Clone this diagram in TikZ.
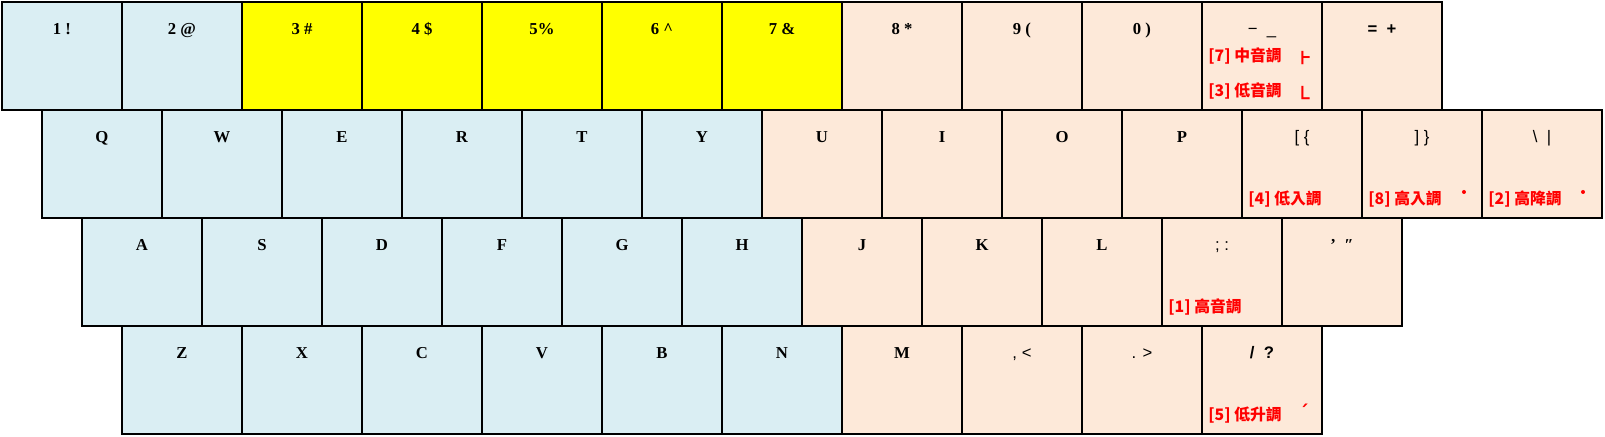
\documentclass[tikz,border=0pt]{standalone}
\usepackage{fontspec}
\setmainfont{Liberation Serif}
\setsansfont{Liberation Sans}
\newfontfamily\cjkfont{Noto Sans CJK TC}
\newfontfamily\markfont{DejaVu Sans}
\usetikzlibrary{calc}

\definecolor{keyblue}{RGB}{218,238,243}
\definecolor{keypeach}{RGB}{253,233,217}
\definecolor{keyyellow}{RGB}{255,255,0}
\definecolor{tonered}{RGB}{255,0,0}

\tikzset{
  keybox/.style={draw, line width=1.4pt, minimum width=2.4cm, minimum height=2.16cm,
    anchor=north west, inner sep=0pt, outer sep=0pt},
  keylab/.style={font=\fontsize{9.5}{11}\selectfont\bfseries, anchor=base, inner sep=0pt},
  tonelab/.style={font=\fontsize{9}{11}\selectfont\cjkfont\bfseries, text=tonered,
    anchor=base west, inner sep=0pt},
  tonemark/.style={font=\fontsize{15}{16}\selectfont\cjkfont, text=tonered, inner sep=0pt},
}

\begin{document}
\begin{tikzpicture}[x=0.02cm, y=-0.02cm]
  \useasboundingbox (0,0) rectangle (1605,436);

  % number row
  \foreach \t/\c [count=\i from 0] in {{1 !}/keyblue, {2 @}/keyblue, {3 \#}/keyyellow,
      {4 \$}/keyyellow, {5\%}/keyyellow, {6 \^{}}/keyyellow, {7 \&}/keyyellow,
      {8 *}/keypeach, {9 (}/keypeach, {0 )}/keypeach,
      {{\sffamily\mdseries −\ \ \_}}/keypeach, {{\sffamily =\ \ +}}/keypeach} {
    \node[keybox, fill=\c] (r1k\i) at (2+120*\i, 2) {};
    \node[keylab] (r1l\i) at ($(r1k\i.north)+(0,32)$) {\t};
  }

  % top letter row
  \foreach \t/\c [count=\i from 0] in {Q/keyblue, W/keyblue, E/keyblue, R/keyblue,
      T/keyblue, Y/keyblue, U/keypeach, I/keypeach, O/keypeach, P/keypeach,
      {{\sffamily\mdseries [ \{}}/keypeach, {{\sffamily\mdseries ] \}}}/keypeach,
      {{\sffamily\mdseries \textbackslash\ \ |}}/keypeach} {
    \node[keybox, fill=\c] (r2k\i) at (42+120*\i, 110) {};
    \node[keylab] (r2l\i) at ($(r2k\i.north)+(0,32)$) {\t};
  }

  % home row
  \foreach \t/\c [count=\i from 0] in {A/keyblue, S/keyblue, D/keyblue, F/keyblue,
      G/keyblue, H/keyblue, J/keypeach, K/keypeach, L/keypeach,
      {{\sffamily\mdseries ; :}}/keypeach, {{’\ \ ″}}/keypeach} {
    \node[keybox, fill=\c] (r3k\i) at (82+120*\i, 218) {};
    \node[keylab] (r3l\i) at ($(r3k\i.north)+(0,32)$) {\t};
  }

  % bottom row
  \foreach \t/\c [count=\i from 0] in {Z/keyblue, X/keyblue, C/keyblue, V/keyblue,
      B/keyblue, N/keyblue, M/keypeach, {{\sffamily\mdseries , <}}/keypeach,
      {{\sffamily\mdseries . >}}/keypeach, {{\sffamily /\ \ ?}}/keypeach} {
    \node[keybox, fill=\c] (r4k\i) at (122+120*\i, 326) {};
    \node[keylab] (r4l\i) at ($(r4k\i.north)+(0,32)$) {\t};
  }

  % tone labels
  \node[tonelab] (t7) at ($(r1k10.south west)+(6,-48)$) {[7] 中音調};
  \node[tonelab] (t3) at ($(r1k10.south west)+(6,-13)$) {[3] 低音調};
  \node[tonelab] (t4) at ($(r2k10.south west)+(6,-13)$) {[4] 低入調};
  \node[tonelab] (t8) at ($(r2k11.south west)+(6,-13)$) {[8] 高入調};
  \node[tonelab] (t2) at ($(r2k12.south west)+(6,-13)$) {[2] 高降調};
  \node[tonelab] (t1) at ($(r3k9.south west)+(6,-13)$) {[1] 高音調};
  \node[tonelab] (t5) at ($(r4k9.south west)+(6,-13)$) {[5] 低升調};

  % tone marks
  \node[tonemark] (m7) at ($(r1k10.south east)+(-17,-48)$) {˫};
  \node[tonemark] (m3) at ($(r1k10.south east)+(-17,-13)$) {˪};
  \node[tonemark, font=\fontsize{11}{12}\selectfont\markfont\bfseries] (m5)
    at ($(r4k9.south east)+(-18,-22)$) {ˊ};
  \fill[tonered] ($(r2k11.south east)+(-18,-26)$) circle (2);
  \fill[tonered] ($(r2k12.south east)+(-19,-26)$) circle (2);
\end{tikzpicture}
\end{document}
